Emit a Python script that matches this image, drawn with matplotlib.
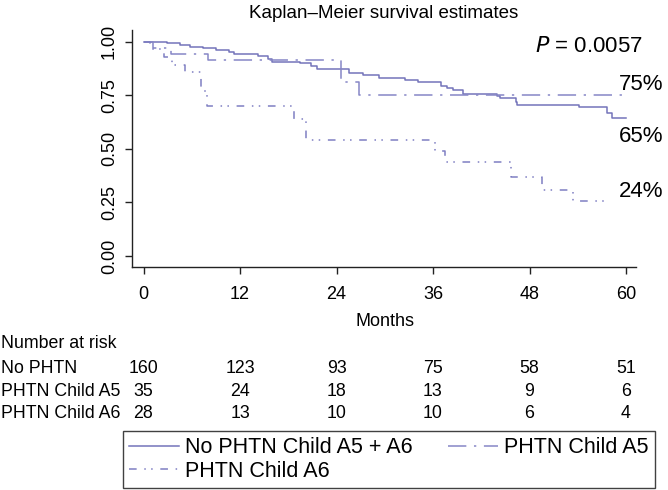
import matplotlib
matplotlib.use("Agg")
import matplotlib.pyplot as plt
import matplotlib.transforms as mtransforms
from matplotlib.lines import Line2D

plt.rcParams['font.family'] = ['Liberation Sans', 'DejaVu Sans']

# ---- data ----
months_ticks = [0, 12, 24, 36, 48, 60]
y_ticks = [0.00, 0.25, 0.50, 0.75, 1.00]

t_none = [0, 1.0, 2.9, 4.5, 5.8, 7.4, 9.0, 10.6, 11.2, 14.2, 15.5, 16.0, 19.4, 20.8, 21.6,
          25.6, 27.3, 29.3, 32.5, 34.1, 37.0, 37.7, 38.5, 39.7, 43.9, 44.3, 46.3, 46.5,
          54.2, 57.6, 58.2, 60.0]
s_none = [1.0, 0.997, 0.992, 0.985, 0.977, 0.969, 0.962, 0.953, 0.943, 0.934, 0.92, 0.907,
          0.899, 0.887, 0.871, 0.855, 0.845, 0.832, 0.821, 0.81, 0.795, 0.783, 0.775, 0.755,
          0.745, 0.736, 0.72, 0.705, 0.694, 0.666, 0.645, 0.645]

t_a5 = [0, 1.2, 3.4, 8.0, 24.5, 26.8, 60.0]
s_a5 = [1.0, 0.971, 0.943, 0.914, 0.813, 0.75, 0.75]

t_a6 = [0, 0.8, 2.5, 3.5, 5.2, 7.2, 7.6, 7.9, 18.7, 20.2, 36.2, 37.5, 45.7, 49.6, 53.4, 57.6]
s_a6 = [1.0, 0.964, 0.929, 0.893, 0.857, 0.786, 0.75, 0.70, 0.64, 0.54, 0.49, 0.44,
        0.37, 0.31, 0.255, 0.255]

risk_rows = ["No PHTN", "PHTN Child A5", "PHTN Child A6"]
risk_none = [160, 123, 93, 75, 58, 51]
risk_a5 = [35, 24, 18, 13, 9, 6]
risk_a6 = [28, 13, 10, 10, 6, 4]

end_labels = ["75%", "65%", "24%"]
end_label_y = [0.80, 0.557, 0.30]

legend_labels = ["No PHTN Child A5 + A6", "PHTN Child A5", "PHTN Child A6"]

# ---- figure ----
W, H = 668, 490
px0, px60 = 143.5, 626.0
ppm = (px60 - px0) / 60.0
left_px, right_px = 131.7, 635.7
fig = plt.figure(figsize=(W / 100, H / 100), dpi=100)
ax = fig.add_axes([left_px / W, 1 - 266.7 / H, (right_px - left_px) / W, (266.7 - 30) / H])
ax.set_xlim((left_px - px0) / ppm, (right_px - px0) / ppm)
ax.set_ylim(-0.05, 1.055)

col_none = '#7474ba'
col_a5 = '#8686c6'
col_a6 = '#7e7ec2'
ls_a5 = (0, (12, 5, 1.5, 5))
ls_a6 = (0, (5, 5, 1, 3.5, 1, 5))
lw = 1.1
ax.step(t_none, s_none, where='post', color=col_none, lw=lw, linestyle='-')
ax.step(t_a5, s_a5, where='post', color=col_a5, lw=lw, linestyle=ls_a5)
ax.step(t_a6, s_a6, where='post', color=col_a6, lw=lw, linestyle=ls_a6)

for sp in ['top', 'right']:
    ax.spines[sp].set_visible(False)
for sp in ['left', 'bottom']:
    ax.spines[sp].set_linewidth(1.0)
    ax.spines[sp].set_color('#222222')

ax.set_xticks(months_ticks)
ax.set_xticklabels([str(m) for m in months_ticks])
ax.set_yticks(y_ticks)
ax.set_yticklabels([f"{v:.2f}" for v in y_ticks], rotation=90, va='center')
ax.tick_params(axis='both', direction='out', length=5, width=1.0, color='#222222',
               labelsize=13)
ax.tick_params(axis='x', pad=9)
ax.tick_params(axis='y', pad=5)

ax.set_title("Kaplan\u2013Meier survival estimates", fontsize=13.5, pad=9)
x_p = (642 - px0) / ppm
ax.text(x_p, 0.977, "$\\it{P}$ = 0.0057", ha='right', va='center', fontsize=16)
x_lab = (619 - px0) / ppm
for lab, yy in zip(end_labels, end_label_y):
    ax.text(x_lab, yy, lab, ha='left', va='center', fontsize=16)

# x label and number at risk
trans = mtransforms.blended_transform_factory(ax.transData, fig.transFigure)
fig.text(385 / W, 1 - 321 / H, "Months", ha='center', va='center', fontsize=13)
fig.text(1 / W, 1 - 343 / H, "Number at risk", ha='left', va='center', fontsize=12.8)
row_y = [368, 391, 413]
for lab, vals, yy in zip(risk_rows, [risk_none, risk_a5, risk_a6], row_y):
    fig.text(1 / W, 1 - yy / H, lab, ha='left', va='center', fontsize=12.8)
    for m, v in zip(months_ticks, vals):
        ax.text(m, 1 - yy / H, str(v), transform=trans, ha='center', va='center', fontsize=12.8)

handles = [
    Line2D([], [], color=col_none, lw=lw, linestyle='-'),
    Line2D([], [], color=col_a6, lw=lw, linestyle=ls_a6),
    Line2D([], [], color=col_a5, lw=lw, linestyle=ls_a5),
]
labels = [legend_labels[0], legend_labels[2], legend_labels[1]]
leg = fig.legend(handles, labels, ncol=2, loc='lower left',
                 bbox_to_anchor=(123 / W, 2 / H, (655 - 123) / W, (488 - 430) / H),
                 mode='expand', fontsize=15.5, frameon=True, fancybox=False,
                 edgecolor='#111111', handlelength=2.3, handletextpad=0.3,
                 borderpad=0.3, labelspacing=0.1, columnspacing=0.8, borderaxespad=0)
leg.get_frame().set_linewidth(1.0)

fig.savefig("out.png", dpi=100)
